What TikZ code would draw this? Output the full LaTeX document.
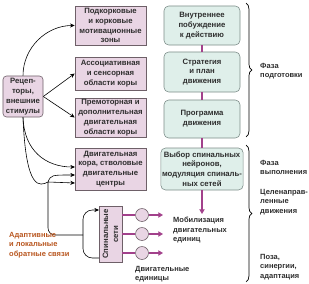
\documentclass[tikz,border=0pt]{standalone}
\usepackage{fontspec}
\setmainfont{Liberation Sans}
\usepackage{tikz}
\usetikzlibrary{arrows.meta,positioning,calc,decorations.pathreplacing}
\definecolor{CortexPink}{HTML}{E9D5E4}
\definecolor{CortexEdge}{HTML}{6E6068}
\definecolor{PhaseMint}{HTML}{DFEFEA}
\definecolor{PhaseEdge}{HTML}{7C8C88}
\definecolor{SpinalMagenta}{HTML}{A2418B}
\definecolor{FeedbackOrange}{HTML}{B8561F}
\definecolor{LabelGray}{HTML}{2E2E2E}
\tikzset{
    % Base node style
    basenode/.style={
        draw=CortexEdge,
        line width=0.5pt,
        align=center,
        inner sep=1pt,
        text=LabelGray,
        font=\fontsize{6.6}{8.4}\selectfont\bfseries
    },
    % Cortex layer style (left column)
    cortexnode/.style={
        basenode,
        fill=CortexPink,
        minimum width=2.13cm
    },
    % Receptor box
    receptornode/.style={
        basenode,
        fill=CortexPink,
        rounded corners=3pt,
        minimum width=1.2cm,
        minimum height=1.23cm
    },
    % Phase layer style (right column)
    phasenode/.style={
        basenode,
        draw=PhaseEdge,
        fill=PhaseMint,
        rounded corners=4pt,
        minimum width=2.28cm
    },
    % Motor unit
    unitnode/.style={
        circle,
        draw=CortexEdge,
        fill=CortexPink,
        line width=0.5pt,
        minimum size=0.39cm,
        inner sep=0pt
    },
    % Plain label
    labelnode/.style={
        align=left,
        inner sep=0pt,
        anchor=west,
        text=LabelGray,
        font=\fontsize{6.4}{8.2}\selectfont\bfseries
    },
    % Arrow styles
    myarrow/.style={
        -{Stealth[length=4pt,width=3.5pt]},
        line width=0.5pt,
        draw=black
    },
    myline/.style={
        line width=0.5pt,
        draw=black
    },
    magarrow/.style={
        -{Triangle[length=4pt,width=4.5pt]},
        line width=1.2pt,
        draw=SpinalMagenta
    },
    magline/.style={
        line width=1.2pt,
        draw=SpinalMagenta
    },
    % Phase brace
    phasebrace/.style={
        decorate,
        decoration={brace,amplitude=5pt},
        line width=0.6pt
    }
}
\begin{document}
\begin{tikzpicture}[x=0.03cm,y=-0.03cm]
    \useasboundingbox (0,0) rectangle (309,284);

    % left column
    \node[receptornode] (recep) at (23,96.5) {Рецеп-\\торы,\\внешние\\стимулы};
    \node[cortexnode,minimum height=1.17cm] (b1) at (110.5,25.5) {Подкорковые\\и корковые\\мотивационные\\зоны};
    \node[cortexnode,minimum height=0.99cm] (b2) at (110.5,73.5) {Ассоциативная\\и сенсорная\\области коры};
    \node[cortexnode,minimum height=1.17cm] (b3) at (110.5,117.5) {Премоторная и\\дополнительная\\двигательная\\области коры};
    \node[cortexnode,minimum height=1.26cm] (b4) at (110.5,169) {Двигательная\\кора, стволовые\\двигательные\\центры};

    % right column
    \node[phasenode,minimum height=1.17cm] (r1) at (202,25.5) {Внутреннее\\побуждение\\к действию};
    \node[phasenode,minimum height=1.2cm] (r2) at (202,72) {Стратегия\\и план\\движения};
    \node[phasenode,minimum height=1.14cm] (r3) at (202,119) {Программа\\движения};
    \node[phasenode,minimum height=1.26cm] (r4) at (202,169) {Выбор спинальных\\нейронов,\\модуляция спиналь-\\ных сетей};

    % spinal level
    \node[basenode,fill=CortexPink,rotate=90,minimum width=1.68cm,minimum height=0.69cm] (spinal) at (110.5,234) {Спинальные\\сети};

    \coordinate (in1) at (75,167);
    \coordinate (in2) at (75,175);
    \coordinate (in3) at (75,183);
    \coordinate (j) at (48,182);
    \coordinate (k) at (83,235);
    \coordinate (s1) at (99,258);
    \coordinate (s2) at (99,210);
    \coordinate (mob) at (202,214);

    \draw[myarrow] (recep.north) to[out=90,in=180] (b1.west);
    \draw[myarrow] (recep.east) -- (b2.west);
    \draw[myarrow] (recep.east) -- (b3.west);
    \draw[myarrow] (recep.south) .. controls (24,150) and (45,167) .. (in1);
    \draw[myline] (recep.south) .. controls (26,192) and (40,186) .. (j);
    \draw[myarrow] (j) .. controls (51,175) .. (in2);
    \draw[myarrow] (j) -- (in3);
    \draw[myline,rounded corners=6pt] (j) |- (k);
    \draw[myarrow,rounded corners=8pt] (s1) -| (k) |- (s2);

    \draw[magline] (r1) -- (r2);
    \draw[magline] (r2) -- (r3);
    \draw[magline] (r3) -- (r4);
    \draw[magarrow] (r4) -- (mob);

    \foreach \i/\yy in {1/215,2/234,3/253} {
        \node[unitnode] (u\i) at (142,\yy) {};
        \coordinate (t\i) at (163,\yy);
        \draw[magline] (spinal.south |- u\i) -- (u\i);
        \draw[magarrow] (u\i) -- (t\i);
    }

    % braces
    \draw[phasebrace] (246,3) -- (246,137);
    \draw[phasebrace] (246,145) -- (246,282);

    \node[labelnode] (prep) at (260,71) {Фаза\\подготовки};
    \node[labelnode] (exec) at (260,167.5) {Фаза\\выполнения};
    \node[labelnode] (goal) at (260,202) {Целенаправ-\\ленные\\движения};
    \node[labelnode] (pose) at (260,267) {Поза,\\синергии,\\адаптация};
    \node[labelnode] (mobl) at (173,230) {Мобилизация\\двигательных\\единиц};
    \node[labelnode] (units) at (135,274) {Двигательные\\единицы};
    \node[labelnode,text=FeedbackOrange] (fb) at (9,245) {Адаптивные\\и локальные\\обратные связи};
\end{tikzpicture}
\end{document}
